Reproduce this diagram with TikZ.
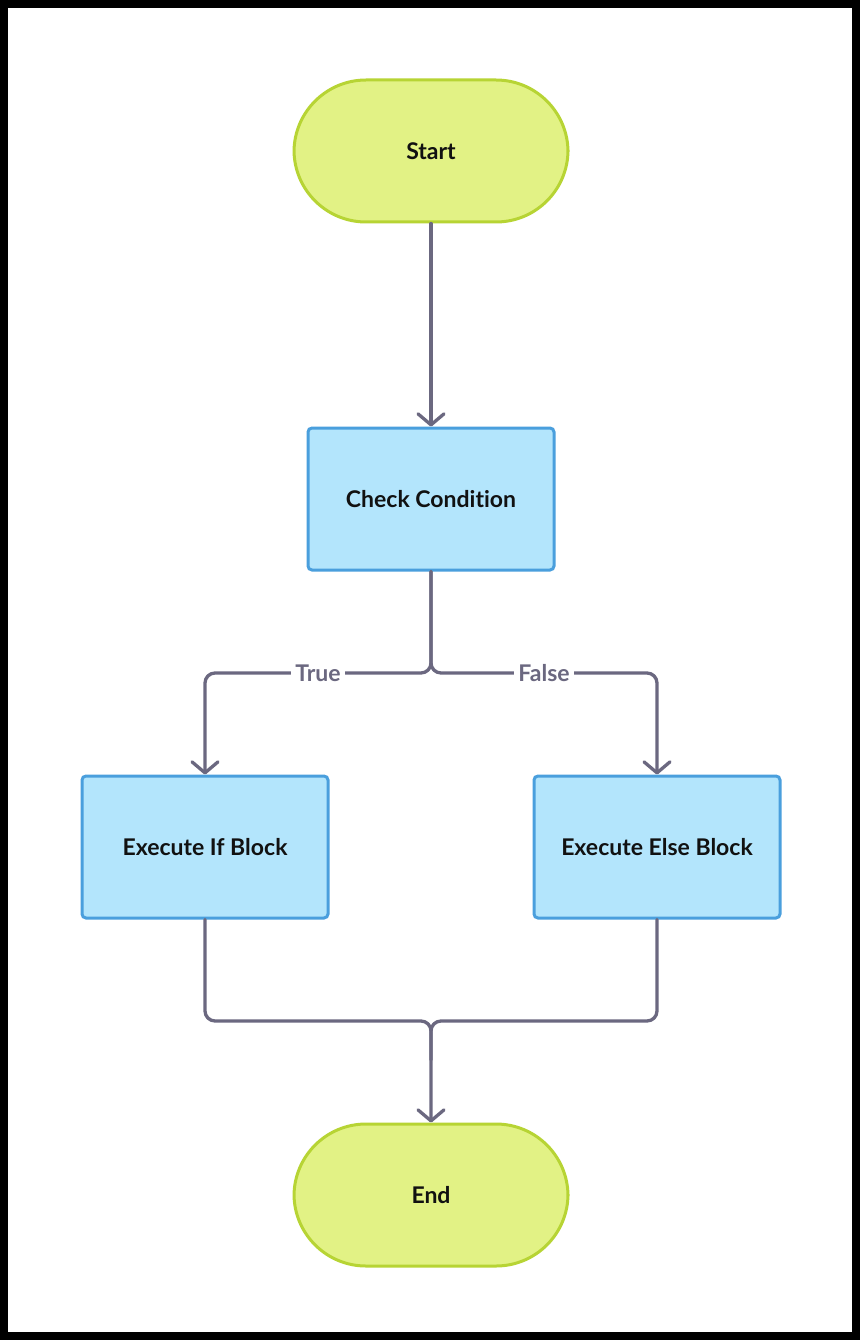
\documentclass[tikz,border=0pt]{standalone}
\usepackage{fontspec}
\setmainfont{Lato}[Ligatures={NoCommon,NoRare}]
\usetikzlibrary{arrows.meta}
\definecolor{limefill}{HTML}{E2F285}
\definecolor{limeline}{HTML}{B7D434}
\definecolor{bluefill}{HTML}{B3E5FC}
\definecolor{blueline}{HTML}{4A9FDD}
\definecolor{conn}{HTML}{6B6880}
\definecolor{txt}{HTML}{111111}
\tikzset{
  term/.style={draw=limeline, fill=limefill, line width=3pt, rounded corners=72pt,
    minimum width=274pt, minimum height=142pt, inner sep=0pt,
    font=\fontsize{23}{26}\selectfont\bfseries, text=txt},
  proc/.style={draw=blueline, fill=bluefill, line width=3pt, rounded corners=4pt,
    minimum width=246pt, minimum height=142pt, inner sep=0pt,
    font=\fontsize{23}{26}\selectfont\bfseries, text=txt},
  conn/.style={draw=conn, line width=3.3pt, line cap=round, line join=round, rounded corners=10pt},
  arr/.style={-{Straight Barb[length=11pt,width=26pt,line width=3.3pt, round]}},
  lbl/.style={fill=white, text=conn, inner sep=4pt, font=\fontsize{23}{26}\selectfont\bfseries}
}
\begin{document}
\begin{tikzpicture}[x=1pt,y=-1pt]
\fill[black] (0,0) rectangle (860,1340);
\fill[white] (8,8) rectangle (852,1332);
\useasboundingbox (0,0) rectangle (860,1340);

\node[term] (start) at (431,151) {Start};
\node[proc] (check) at (431,499) {Check Condition};
\node[proc] (ifb) at (205,847) {Execute If Block};
\node[proc] (elseb) at (657,847) {Execute Else Block};
\node[term] (end) at (431,1195) {End};

\draw[conn,arr] (start.south) -- (check.north);
\draw[conn,arr] (check.south) -- (431,673) -- (205,673) -- (ifb.north);
\draw[conn,arr] (check.south) -- (431,673) -- (657,673) -- (elseb.north);
\draw[conn] (ifb.south) -- (205,1021) -- (431,1021) -- (431,1060);
\draw[conn,arr] (elseb.south) -- (657,1021) -- (431,1021) -- (end.north);

\node[lbl] (ltrue) at (318,673) {True};
\node[lbl] (lfalse) at (544,673) {False};
\end{tikzpicture}
\end{document}
